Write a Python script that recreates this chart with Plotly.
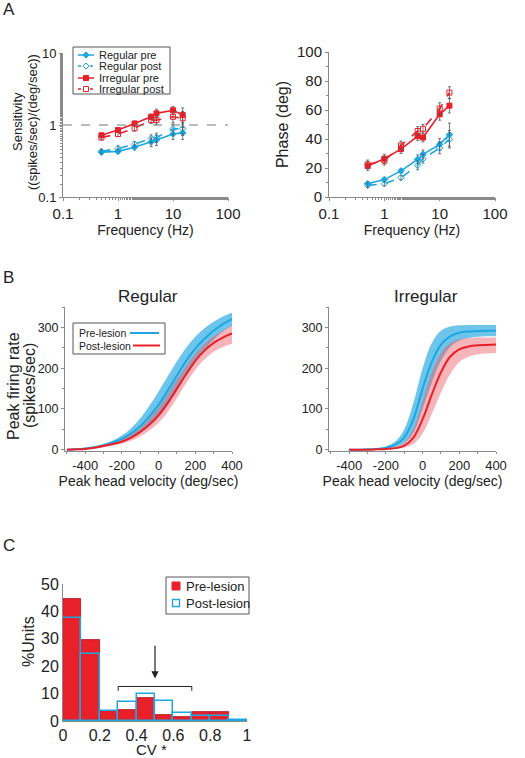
import plotly.graph_objects as go

# ---------------- Panel A data ----------------
freq = [0.5, 1, 2, 4, 5, 10, 15]
sens_reg_pre = [0.42, 0.43, 0.49, 0.58, 0.62, 0.75, 0.78]
sens_reg_post = [0.43, 0.47, 0.54, 0.65, 0.67, 0.88, 0.90]
sens_irr_pre = [0.72, 0.85, 1.05, 1.30, 1.45, 1.60, 1.38]
sens_irr_post = [0.67, 0.75, 0.90, 1.17, 1.17, 1.30, 1.24]
sens_err_reg_pre = [0.03, 0.03, 0.04, 0.08, 0.10, 0.12, 0.15]
sens_err_reg_post = [0.03, 0.04, 0.05, 0.08, 0.10, 0.15, 0.18]
sens_err_irr_pre = [0.05, 0.06, 0.08, 0.12, 0.20, 0.20, 0.35]
sens_err_irr_post = [0.05, 0.06, 0.08, 0.12, 0.15, 0.22, 0.30]

phase_reg_pre = [9.2, 12.0, 18.0, 26.0, 29.4, 36.3, 43.0]
phase_reg_post = [8.0, 9.2, 13.3, 21.8, 26.4, 33.8, 39.8]
phase_irr_pre = [21.4, 26.4, 33.0, 42.0, 41.0, 57.0, 63.0]
phase_irr_post = [22.5, 25.0, 35.6, 45.5, 47.0, 61.0, 72.0]
phase_err_reg_pre = [1.5, 1.5, 1.5, 3.0, 3.0, 4.0, 8.0]
phase_err_reg_post = [1.5, 1.5, 1.5, 3.0, 3.0, 4.0, 6.0]
phase_err_irr_pre = [3.0, 3.0, 3.0, 3.0, 3.0, 4.0, 5.0]
phase_err_irr_post = [3.0, 3.0, 3.0, 3.0, 3.0, 4.0, 4.0]

freq_ticks = [0.1, 1, 10, 100]
freq_ticktext = ["0.1", "1", "10", "100"]

# ---------------- Panel B data ----------------
vel_reg = [-500, -450, -400, -350, -300, -250, -200, -150, -100, -50, 0, 50, 100, 150, 200, 250, 300, 350, 400]
reg_pre = [0, 1, 3, 6, 11, 18, 27, 40, 58, 82, 110, 145, 182, 218, 248, 272, 292, 308, 320]
reg_pre_hi = [0, 1, 4, 8, 14, 23, 35, 53, 77, 108, 143, 180, 217, 250, 277, 298, 314, 327, 336]
reg_pre_lo = [0, 1, 2, 4, 8, 13, 20, 29, 41, 58, 80, 110, 147, 185, 218, 246, 270, 290, 304]
reg_post = [0, 1, 2, 5, 9, 14, 20, 30, 44, 62, 85, 115, 150, 185, 218, 243, 262, 275, 285]
reg_post_hi = [0, 1, 3, 6, 11, 17, 25, 37, 54, 76, 103, 136, 172, 206, 236, 260, 278, 292, 305]
reg_post_lo = [0, 1, 1, 3, 6, 10, 15, 22, 33, 47, 66, 93, 127, 163, 196, 222, 240, 252, 260]

vel_irr = [-400, -350, -300, -250, -200, -150, -100, -50, 0, 50, 100, 150, 200, 250, 300, 350, 400]
irr_pre = [0, 0, 1, 2, 5, 12, 30, 75, 150, 215, 258, 278, 287, 290, 291, 292, 292]
irr_pre_hi = [0, 0, 1, 3, 8, 20, 50, 115, 200, 262, 292, 302, 305, 306, 306, 306, 306]
irr_pre_lo = [0, 0, 0, 1, 3, 7, 16, 42, 100, 165, 218, 252, 268, 274, 277, 278, 278]
irr_post = [0, 0, 0, 1, 2, 4, 10, 30, 75, 135, 190, 228, 246, 253, 256, 257, 258]
irr_post_hi = [0, 0, 0, 1, 3, 7, 18, 52, 120, 190, 238, 262, 271, 274, 275, 275, 275]
irr_post_lo = [0, 0, 0, 0, 1, 2, 5, 14, 40, 88, 140, 185, 215, 228, 234, 236, 237]

vel_ticks = [-400, -200, 0, 200, 400]
vel_ticktext = ["-400", "-200", "0", "200", "400"]
rate_ticks = [0, 100, 200, 300]

# ---------------- Panel C data ----------------
cv_bins = [0.05, 0.15, 0.25, 0.35, 0.45, 0.55, 0.65, 0.75, 0.85, 0.95]
pct_pre = [44.5, 29.4, 3.7, 3.9, 8.3, 2.2, 1.5, 3.2, 3.2, 0.0]
pct_post = [37.6, 24.4, 3.7, 6.8, 9.8, 7.2, 3.0, 2.0, 2.0, 0.5]
cv_ticks = [0, 0.2, 0.4, 0.6, 0.8, 1]
cv_ticktext = ["0", "0.2", "0.4", "0.6", "0.8", "1"]

BLUE = "#1ea6e0"
RED = "#e8202a"
ERR = "#555555"
AX = "#8a8a8a"
TXT = "#222222"
FONT = "Liberation Sans, Arial, sans-serif"
W, H = 525, 758


def px(x):
    return x / W


def py(y):
    return 1 - y / H


fig = go.Figure()


def add_series(x, y, err, name, color, symbol, dash, xa, ya):
    fig.add_trace(go.Scatter(
        x=x, y=y, name=name, mode="lines+markers",
        line=dict(color=color, width=1.6, dash=dash),
        marker=dict(symbol=symbol, size=5, color=color, line=dict(color=color, width=1)),
        error_y=dict(type="data", array=err, color=ERR, thickness=0.8, width=1.5),
        xaxis=xa, yaxis=ya, showlegend=False))


add_series(freq, sens_reg_pre, sens_err_reg_pre, "Regular pre", BLUE, "diamond", "solid", "x", "y")
add_series(freq, sens_reg_post, sens_err_reg_post, "Regular post", BLUE, "diamond-open", "dash", "x", "y")
add_series(freq, sens_irr_pre, sens_err_irr_pre, "Irregular pre", RED, "square", "solid", "x", "y")
add_series(freq, sens_irr_post, sens_err_irr_post, "Irregular post", RED, "square-open", "dash", "x", "y")

add_series(freq, phase_reg_pre, phase_err_reg_pre, "Regular pre", BLUE, "diamond", "solid", "x2", "y2")
add_series(freq, phase_reg_post, phase_err_reg_post, "Regular post", BLUE, "diamond-open", "dash", "x2", "y2")
add_series(freq, phase_irr_pre, phase_err_irr_pre, "Irregular pre", RED, "square", "solid", "x2", "y2")
add_series(freq, phase_irr_post, phase_err_irr_post, "Irregular post", RED, "square-open", "dash", "x2", "y2")


def add_band(x, lo, hi, fill, xa, ya):
    fig.add_trace(go.Scatter(x=x, y=lo, mode="lines", line=dict(width=0, shape="spline"),
                             hoverinfo="skip", showlegend=False, xaxis=xa, yaxis=ya))
    fig.add_trace(go.Scatter(x=x, y=hi, mode="lines", line=dict(width=0, shape="spline"),
                             fill="tonexty", fillcolor=fill, hoverinfo="skip",
                             showlegend=False, xaxis=xa, yaxis=ya))


BFILL = "rgba(30,166,224,0.65)"
RFILL = "rgba(238,90,100,0.45)"
add_band(vel_reg, reg_pre_lo, reg_pre_hi, BFILL, "x3", "y3")
add_band(vel_reg, reg_post_lo, reg_post_hi, RFILL, "x3", "y3")
fig.add_trace(go.Scatter(x=vel_reg, y=reg_pre, mode="lines", name="Pre-lesion",
                         line=dict(color=BLUE, width=2, shape="spline"),
                         showlegend=False, xaxis="x3", yaxis="y3"))
fig.add_trace(go.Scatter(x=vel_reg, y=reg_post, mode="lines", name="Post-lesion",
                         line=dict(color=RED, width=2, shape="spline"),
                         showlegend=False, xaxis="x3", yaxis="y3"))

add_band(vel_irr, irr_pre_lo, irr_pre_hi, BFILL, "x4", "y4")
add_band(vel_irr, irr_post_lo, irr_post_hi, RFILL, "x4", "y4")
fig.add_trace(go.Scatter(x=vel_irr, y=irr_pre, mode="lines", name="Pre-lesion",
                         line=dict(color=BLUE, width=2, shape="spline"),
                         showlegend=False, xaxis="x4", yaxis="y4"))
fig.add_trace(go.Scatter(x=vel_irr, y=irr_post, mode="lines", name="Post-lesion",
                         line=dict(color=RED, width=2, shape="spline"),
                         showlegend=False, xaxis="x4", yaxis="y4"))

# Panel C histogram
fig.add_trace(go.Bar(x=cv_bins, y=pct_pre, width=0.1, name="Pre-lesion",
                     marker=dict(color=RED, line=dict(color="#b01018", width=0.8)),
                     xaxis="x5", yaxis="y5", showlegend=False))
fig.add_trace(go.Bar(x=cv_bins, y=pct_post, width=0.1, name="Post-lesion",
                     marker=dict(color="rgba(0,0,0,0)", line=dict(color=BLUE, width=1.5)),
                     xaxis="x5", yaxis="y5", showlegend=False))


def axis_common(size=15):
    return dict(showgrid=False, zeroline=False, showline=True, linecolor=AX, linewidth=1,
                ticks="outside", tickcolor=AX, ticklen=3, automargin=False, tickangle=0,
                tickfont=dict(family=FONT, size=size, color=TXT))


def minor(dt=None):
    d = dict(ticks="outside", ticklen=2, tickcolor=AX, showgrid=False)
    if dt is not None:
        d["dtick"] = dt
    return d


xa_log = dict(axis_common(15), type="log", range=[-1, 2],
              tickvals=freq_ticks, ticktext=freq_ticktext, minor=minor(),
              title=dict(text="Frequency (Hz)", font=dict(family=FONT, size=14, color=TXT), standoff=3))

layout = dict(
    width=W, height=H, margin=dict(l=0, r=0, t=0, b=0, autoexpand=False),
    paper_bgcolor="white", plot_bgcolor="white",
    font=dict(family=FONT, color=TXT),
    barmode="overlay", bargap=0, showlegend=False,
    xaxis=dict(xa_log, domain=[px(63), px(228)], anchor="y"),
    yaxis=dict(axis_common(13), type="log", range=[-1, 1], domain=[py(197), py(53)], anchor="x",
               tickvals=[0.1, 1, 10], ticktext=["0.1", "1", "10"], minor=minor()),
    xaxis2=dict(xa_log, domain=[px(329), px(495)], anchor="y2"),
    yaxis2=dict(axis_common(15), range=[0, 100], dtick=20, domain=[py(197), py(52)], anchor="x2",
                minor=minor(10),
                title=dict(text="Phase (deg)", font=dict(family=FONT, size=16, color=TXT), standoff=4)),
    xaxis3=dict(axis_common(13), ticklen=2, range=[-510, 400], tickvals=vel_ticks, ticktext=vel_ticktext,
                minor=minor(100), domain=[px(65), px(232)], anchor="y3",
                title=dict(text="Peak head velocity (deg/sec)", font=dict(family=FONT, size=14, color=TXT), standoff=0)),
    yaxis3=dict(axis_common(12.5), range=[-3, 350], tickvals=rate_ticks, minor=minor(50),
                domain=[py(451), py(307)], anchor="x3"),
    xaxis4=dict(axis_common(13), ticklen=2, range=[-510, 400], tickvals=vel_ticks, ticktext=vel_ticktext,
                minor=minor(100), domain=[px(329), px(496)], anchor="y4",
                title=dict(text="Peak head velocity (deg/sec)", font=dict(family=FONT, size=14, color=TXT), standoff=0)),
    yaxis4=dict(axis_common(12.5), range=[-3, 350], tickvals=rate_ticks, minor=minor(50),
                domain=[py(451), py(307)], anchor="x4"),
    xaxis5=dict(axis_common(16), ticks="", range=[0, 1], tickvals=cv_ticks, ticktext=cv_ticktext,
                domain=[px(63), px(247)], anchor="y5"),
    yaxis5=dict(axis_common(16), ticks="", range=[0, 50], dtick=10,
                domain=[py(721), py(584)], anchor="x5"),
)
fig.update_layout(**layout)

# dashed unity line in sensitivity
fig.add_shape(type="line", xref="x domain", yref="y", x0=0, x1=1, y0=1, y1=1,
              line=dict(color="#777", width=1, dash="dash"))


def pshape(**kw):
    kw.setdefault("xref", "paper")
    kw.setdefault("yref", "paper")
    kw.setdefault("layer", "above")
    fig.add_shape(**kw)


def ptext(x, y, text, size, xanchor="left", **kw):
    fig.add_annotation(x=px(x), y=py(y), xref="paper", yref="paper", text=text, showarrow=False,
                       xanchor=xanchor, yanchor="middle", font=dict(family=FONT, size=size, color=TXT), **kw)


# y-axis titles placed precisely (one annotation per line)
ptext(18, 122, "Sensitivity", 13, xanchor="center", textangle=-90)
ptext(33, 122, "((spikes/sec)/(deg/sec))", 13, xanchor="center", textangle=-90)
ptext(13, 386, "Peak firing rate", 16, xanchor="center", textangle=-90)
ptext(29, 386, "(spikes/sec)", 16, xanchor="center", textangle=-90)
ptext(28, 642, "%Units", 16, xanchor="center", textangle=-90)

# ---- Panel A legend (drawn) ----
pshape(type="rect", x0=px(73), x1=px(170), y0=py(94), y1=py(47), line=dict(color="#555", width=1),
       fillcolor="white")
leg_a = [("Regular pre", BLUE, "solid", "diamond", True, 55),
         ("Regular post", BLUE, "dash", "diamond", False, 66),
         ("Irregular pre", RED, "solid", "square", True, 78),
         ("Irregular post", RED, "dash", "square", False, 89)]
for name, col, dash, sym, filled, yy in leg_a:
    pshape(type="line", x0=px(78), x1=px(94), y0=py(yy), y1=py(yy),
           line=dict(color=col, width=1.5, dash="dot" if dash == "dash" else "solid"))
    fc = col if filled else "white"
    if sym == "diamond":
        pshape(type="path", path=f"M {px(86)} {py(yy-3)} L {px(89)} {py(yy)} L {px(86)} {py(yy+3)} L {px(83)} {py(yy)} Z",
               line=dict(color=col, width=1), fillcolor=fc)
    else:
        pshape(type="rect", x0=px(83.5), x1=px(88.5), y0=py(yy + 2.5), y1=py(yy - 2.5),
               line=dict(color=col, width=1), fillcolor=fc)
    ptext(97, yy, name, 11)

# ---- Panel B legend (text then line) ----
pshape(type="rect", x0=px(73), x1=px(165), y0=py(354), y1=py(323), line=dict(color="#555", width=1),
       fillcolor="white")
pshape(type="line", x0=px(130), x1=px(159), y0=py(333), y1=py(333), line=dict(color=BLUE, width=2))
pshape(type="line", x0=px(133), x1=px(160), y0=py(345.5), y1=py(345.5), line=dict(color=RED, width=2))
ptext(77, 333, "Pre-lesion", 10.5)
ptext(77, 345.5, "Post-lesion", 10.5)

# Panel B titles
ptext(148, 297, "Regular", 17, xanchor="center")
ptext(426, 297, "Irregular", 17, xanchor="center")

# ---- Panel C legend ----
pshape(type="rect", x0=px(166), x1=px(249), y0=py(614), y1=py(577), line=dict(color="#555", width=1),
       fillcolor="white")
pshape(type="rect", x0=px(172), x1=px(180), y0=py(590), y1=py(582), line=dict(color=RED, width=1), fillcolor=RED)
pshape(type="rect", x0=px(172.5), x1=px(179.5), y0=py(606.5), y1=py(599.5), line=dict(color=BLUE, width=1.3),
       fillcolor="white")
ptext(184, 586, "Pre-lesion", 13)
ptext(184, 603, "Post-lesion", 13)

# Panel C x title
ptext(151, 749, "CV *", 15, xanchor="center")

# Panel C bracket and arrow
fig.add_shape(type="path", xref="x5", yref="y5", path="M 0.3 11 L 0.3 12.6 L 0.7 12.6 L 0.7 11",
              line=dict(color=TXT, width=1))
fig.add_annotation(x=0.5, y=15.5, ax=0.5, ay=28, xref="x5", yref="y5", axref="x5", ayref="y5",
                   showarrow=True, arrowhead=2, arrowsize=1.2, arrowwidth=1.2, arrowcolor=TXT, text="")

# Panel labels
for lab, yy in [("A", 10), ("B", 277), ("C", 545)]:
    ptext(1, yy, lab, 17)

fig.write_html("out.html", config={"displayModeBar": False},
               post_script="document.body.style.margin='0';document.body.style.overflow='hidden';")
